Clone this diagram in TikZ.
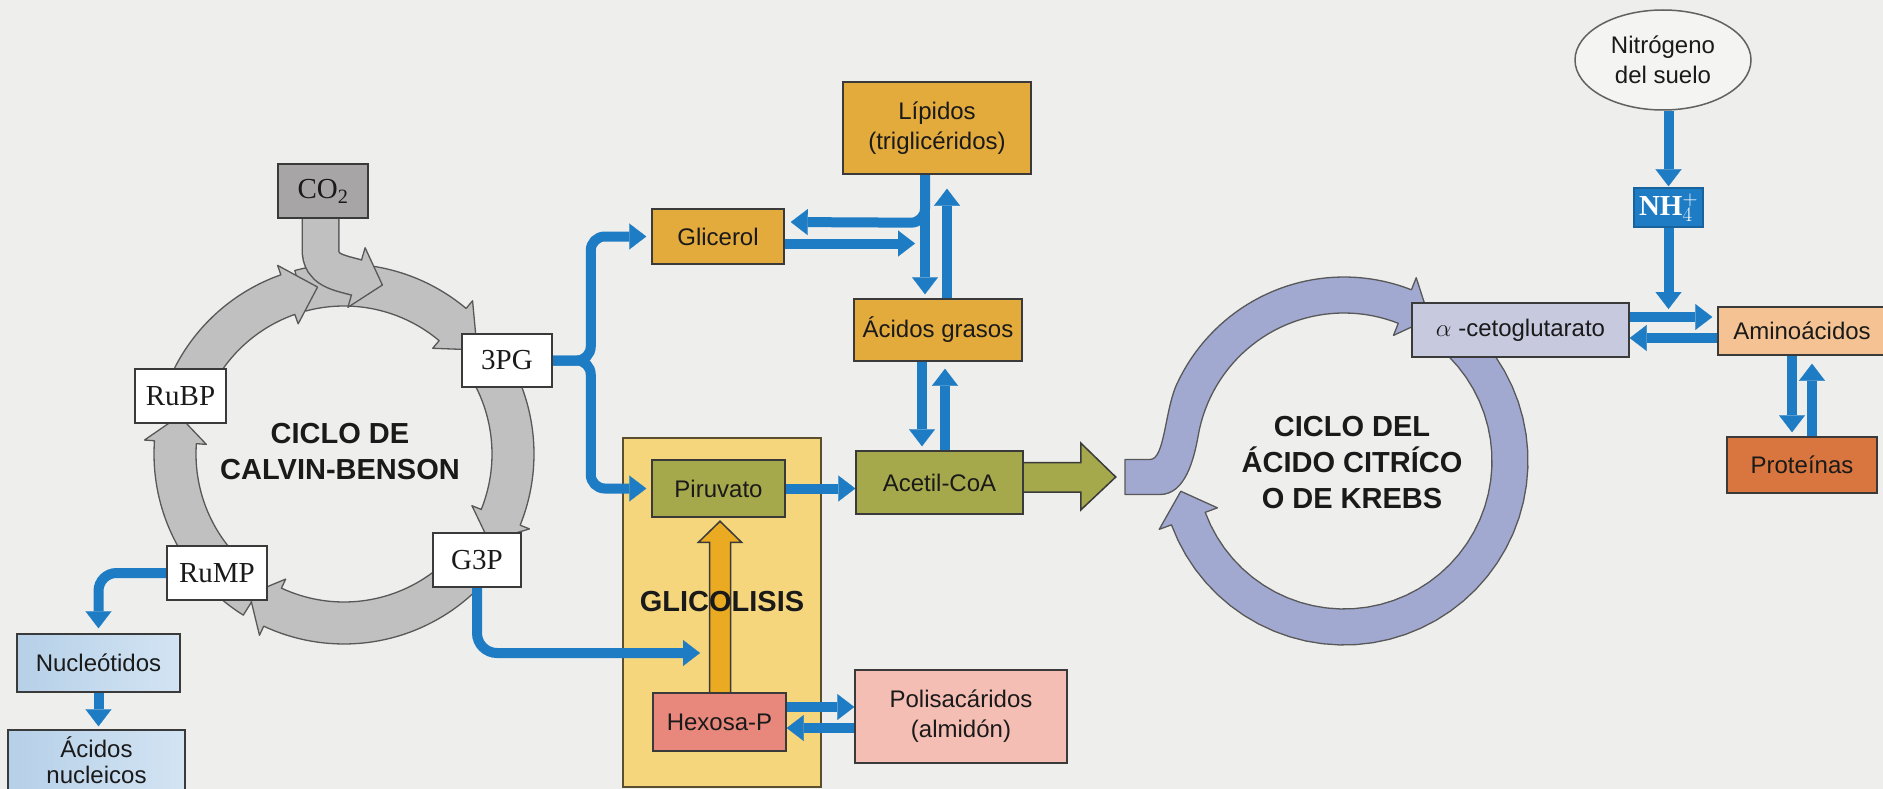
\documentclass[tikz,border=0pt]{standalone}
\usepackage{fontspec}
\setmainfont{Liberation Sans}
\newfontfamily\serifff{Liberation Serif}
\usetikzlibrary{arrows.meta,calc,shapes.geometric}
\pgfdeclarelayer{back}
\pgfdeclarelayer{mid}
\pgfsetlayers{back,mid,main}
\definecolor{bgc}{HTML}{EEEEEC}
\definecolor{bl}{HTML}{1E7CC4}
\definecolor{ringgray}{HTML}{C0C0C0}
\definecolor{cobox}{HTML}{A7A5A5}
\definecolor{gold}{HTML}{E3AA3C}
\definecolor{glyc}{HTML}{F5D67C}
\definecolor{glyedge}{HTML}{5A5030}
\definecolor{olive}{HTML}{A6A84C}
\definecolor{hexo}{HTML}{E8877C}
\definecolor{poli}{HTML}{F4BEB4}
\definecolor{nucA}{HTML}{B6D0E8}
\definecolor{nucB}{HTML}{D3E4F3}
\definecolor{ringblue}{HTML}{A2A9D1}
\definecolor{alphc}{HTML}{C7C9DF}
\definecolor{amino}{HTML}{F5C393}
\definecolor{prot}{HTML}{D9763F}
\definecolor{goldarr}{HTML}{EAAA22}
\definecolor{edge}{HTML}{3A3A3A}
\definecolor{txt}{HTML}{1A1A1A}
\definecolor{ellfill}{HTML}{F4F4F3}
% ring segment: cx, cy, start, base, tip, Ri, Ro, wing extension, style
\newcommand\ringseg[9]{%
  \filldraw[#9] plot[domain=#3:#4,samples=40] ({#1+#7*cos(\x)},{#2+#7*sin(\x)})
   -- ({#1+(#7+#8)*cos(#4)},{#2+(#7+#8)*sin(#4)})
   -- ({#1+(#6+#7)/2*cos(#5)},{#2+(#6+#7)/2*sin(#5)})
   -- ({#1+(#6-#8)*cos(#4)},{#2+(#6-#8)*sin(#4)})
   -- plot[domain=#4:#3,samples=40] ({#1+#6*cos(\x)},{#2+#6*sin(\x)})
   -- cycle;}
\begin{document}
\begin{tikzpicture}[x=1pt,y=-1pt,
  lbl/.style={font=\fontsize{24}{30}\selectfont, text=txt, align=center},
  box/.style={lbl, draw=edge, line width=1.5pt, inner sep=0pt},
  cbox/.style={box, fill=white, font=\serifff\fontsize{29}{34}\selectfont},
  barrow/.style={draw=bl, line width=10pt, -{Triangle[length=17pt,width=26pt,line width=0.1pt]}},
  ttl/.style={font=\bfseries\fontsize{29}{36}\selectfont, align=center, text=txt},
  calvseg/.style={fill=ringgray, draw=edge!85, line width=1.3pt, line join=round},
  krebseg/.style={fill=ringblue, draw=edge!85, line width=1.3pt, line join=round},
  thickarr/.style={draw=edge, line width=1.5pt, line join=miter}]
\useasboundingbox (0,0) rectangle (1883,789);

% ---------- boxes (main layer) ----------
\node[cbox, fill=cobox, minimum width=90pt, minimum height=54pt] (co2) at (323,191) {CO\textsubscript{2}};
\node[cbox, minimum width=90pt, minimum height=53pt] (tpg) at (507,360.5) {3PG};
\node[cbox, minimum width=91pt, minimum height=54pt] (rubp) at (180.5,396) {RuBP};
\node[cbox, minimum width=88pt, minimum height=54pt] (g3p) at (477,560) {G3P};
\node[cbox, minimum width=100pt, minimum height=54pt] (rump) at (217,573) {RuMP};
\node[box, left color=nucA, right color=nucB, minimum width=163pt, minimum height=58pt] (nuc) at (98.5,663) {Nucleótidos};
\node[box, left color=nucA, right color=nucB, minimum width=177pt, minimum height=61pt, font=\fontsize{24}{26}\selectfont] (anuc) at (96.5,760.5) {Ácidos\\nucleicos};
\node[box, fill=gold, minimum width=132pt, minimum height=55pt] (gli) at (718,236.5) {Glicerol};
\node[box, fill=gold, minimum width=188pt, minimum height=92pt] (lip) at (937,128) {Lípidos\\(triglicéridos)};
\node[box, fill=gold, minimum width=168pt, minimum height=62pt] (agr) at (938,330) {Ácidos grasos};
\node[box, fill=olive, minimum width=167pt, minimum height=63pt] (ace) at (939.5,482.5) {Acetil-CoA};
\node[box, fill=olive, minimum width=133pt, minimum height=57pt] (pir) at (718.5,488.5) {Piruvato};
\node[box, fill=hexo, minimum width=133pt, minimum height=58pt] (hex) at (719.5,722) {Hexosa-P};
\node[box, fill=poli, minimum width=212pt, minimum height=93pt] (pol) at (961,716.5) {Polisacáridos\\(almidón)};
\node[box, fill=alphc, minimum width=217pt, minimum height=54pt] (alp) at (1520.5,330) {$\alpha$ -cetoglutarato};
\node[box, fill=amino, minimum width=168pt, minimum height=48pt] (ami) at (1802,331) {Aminoácidos};
\node[box, fill=prot, minimum width=150pt, minimum height=56pt] (pro) at (1802,465) {Proteínas};
\node[box, fill=bl, draw=bl!80!black, minimum width=69pt, minimum height=39pt, text=white, font=\serifff\bfseries\fontsize{29}{30}\selectfont] (nh4) at (1668.5,207.5) {NH$^{+}_{4}$};
\node[lbl, ellipse, draw=edge!80, fill=ellfill, line width=1.5pt, inner sep=0pt, minimum width=176pt, minimum height=100pt] (nit) at (1663,60) {Nitrógeno\\del suelo};

\node[ttl] (calvt) at (340,452) {CICLO DE\\CALVIN-BENSON};
\node[ttl] (krebt) at (1352,463) {CICLO DEL\\ÁCIDO CITRÍCO\\O DE KREBS};
\node[ttl] (glyt) at (722,602) {GLICOLISIS};

% ---------- background layer ----------
\begin{pgfonlayer}{back}
\fill[bgc] (0,0) rectangle (1883,789);
\node[draw=glyedge, fill=glyc, line width=1.5pt, inner sep=0pt, minimum width=198pt, minimum height=349pt] (glyb) at (722,612.5) {};

% Calvin-Benson ring
\ringseg{344}{454}{122}{184}{193}{148}{190}{10}{calvseg}
\ringseg{344}{454}{42}{115}{124}{148}{190}{10}{calvseg}
\ringseg{344}{454}{-28}{22}{31}{148}{190}{10}{calvseg}
\ringseg{344}{454}{255}{310}{322}{148}{190}{10}{calvseg}
\ringseg{344}{454}{200}{250.6}{261}{148}{190}{10}{calvseg}

% CO2 input arrow
\draw[draw=edge!85, line width=38pt] ($(co2.south)+(-2.5,-2)$) -- (320.5,250) .. controls (320.5,270) and (338,272.5) .. (356.5,277.5);
\filldraw[calvseg] (365.1,247.7) -- (382.4,285) -- (347.9,307.3) -- cycle;
\draw[draw=ringgray, line width=35pt] ($(co2.south)+(-2.5,-2)$) -- (320.5,250) .. controls (320.5,270) and (338,272.5) .. (356.5,277.5) -- (358.5,278.1);

% Krebs ring
\ringseg{1344}{461}{-45}{159.7}{169.5}{148}{184}{13}{krebseg}
\filldraw[krebseg] (1125,459.5) -- (1150,459.5) .. controls (1165,459.5) and (1164.5,410.4) .. (1177.2,383.2)
  -- plot[domain=205:291.5,samples=40] ({1344+184*cos(\x)},{461+184*sin(\x)})
  -- ({1344+197*cos(291.5)},{461+197*sin(291.5)})
  -- ({1344+166*cos(301)},{461+166*sin(301)})
  -- ({1344+135*cos(291.5)},{461+135*sin(291.5)})
  -- plot[domain=291.5:190,samples=40] ({1344+148*cos(\x)},{461+148*sin(\x)})
  .. controls (1193.9,459.9) and (1185,494.5) .. (1160,494.5) -- (1125,494.5) -- cycle;

% Acetil-CoA -> Krebs big arrow
\filldraw[thickarr, fill=olive] ($(ace.east)+(0,-20)$) -- ++(57,0) -- ++(0,-19.5) -- ++(35,34) -- ++(-35,33) -- ++(0,-18) -- ++(-57,0);

% glycolysis arrow
\filldraw[thickarr, fill=goldarr] ($(hex.north)+(-10,0)$) -- ++(0,-150) -- ++(-11,0) -- ++(21.5,-21) -- ++(21.5,21) -- ++(-11,0) -- ++(0,150);
\end{pgfonlayer}

% ---------- blue connectors ----------
\begin{pgfonlayer}{mid}
\coordinate (gin) at (700,653);
\coordinate (glij) at (915,243.5);
\coordinate (jn) at (1668.5,309);

\draw[barrow, rounded corners=14pt, shorten >=5pt] (tpg.east) -- ++(38,0) |- (gli.west);
\draw[barrow, rounded corners=14pt, shorten >=5pt] (tpg.east) -- ++(38,0) |- (pir.west);
\draw[barrow, rounded corners=20pt] (g3p.south) |- (gin);
\draw[barrow] (pir.east) -- ($(ace.west)+(0,6)$);

\draw[barrow, shorten >=4pt] ($(lip.south)+(-12,0)$) -- ($(agr.north)+(-13,0)$);
\draw[barrow, rounded corners=14pt, shorten >=6pt] ($(lip.south)+(-12,0)$) -- ($(lip.south)+(-12,48)$) -- ($(gli.east)+(0,-14.5)$);
\draw[barrow] ($(gli.east)+(0,7)$) -- (glij);
\draw[barrow, shorten >=14pt] ($(agr.north)+(9,0)$) -- ($(lip.south)+(10,0)$);
\draw[barrow, shorten >=4pt] ($(agr.south)+(-16,0)$) -- ($(ace.north)+(-17.5,0)$);
\draw[barrow, shorten >=7pt] ($(ace.north)+(5.5,0)$) -- ($(agr.south)+(7,0)$);

\draw[barrow] ($(hex.east)+(0,-15)$) -- ($(pol.west)+(0,-9.5)$);
\draw[barrow] ($(pol.west)+(0,11.5)$) -- ($(hex.east)+(0,6)$);

\draw[barrow, rounded corners=18pt, shorten >=5pt] (rump.west) -| (nuc.north);
\draw[barrow, shorten >=3pt] (nuc.south) -- (nuc.south |- anuc.north);

\draw[barrow, shorten >=1pt] (nh4.north |- nit.south) -- (nh4.north);
\draw[barrow] (nh4.south) -- (jn);
\draw[barrow, shorten >=5pt] ($(alp.east)+(0,-13)$) -- ($(ami.west)+(0,-14)$);
\draw[barrow] ($(ami.west)+(0,7)$) -- ($(alp.east)+(0,8)$);
\draw[barrow, shorten >=4pt] ($(ami.south)+(-10,0)$) -- ($(pro.north)+(-10,0)$);
\draw[barrow, shorten >=8pt] ($(pro.north)+(10,0)$) -- ($(ami.south)+(10,0)$);
\end{pgfonlayer}
\end{tikzpicture}
\end{document}
